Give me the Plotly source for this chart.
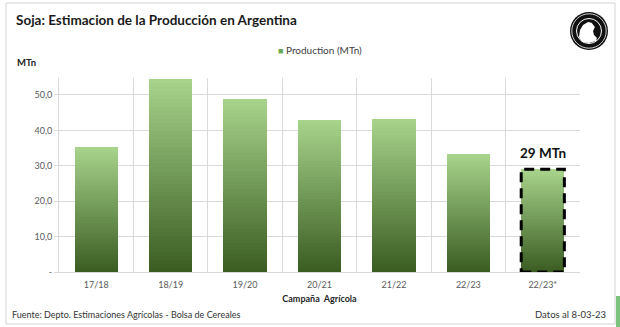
import plotly.graph_objects as go

# Soybean production by crop season (million tonnes)
campaigns = ["17/18", "18/19", "19/20", "20/21", "21/22", "22/23", "22/23*"]
production = [35.3, 54.5, 48.9, 43.0, 43.3, 33.3, 29.0]
y_tickvals = [0, 10, 20, 30, 40, 50]
y_ticktext = ["-", "10,0", "20,0", "30,0", "40,0", "50,0"]

W, H = 620, 327
ML, MR, MT, MB = 59, 40, 78, 55
PW, PH = W - ML - MR, H - MT - MB

FONT = "Lato"
BAR_WIDTH = 0.58
N_SEG = 48
BOTTOM = (0x3A, 0x5C, 0x21)
TOP = (0xA8, 0xD4, 0x8C)
LEGEND_GREEN = "#6aa84f"


def mix(t):
    r, g, b = (round(BOTTOM[i] + (TOP[i] - BOTTOM[i]) * t) for i in range(3))
    return f"rgb({r},{g},{b})"


def px_x(px):
    return (px - ML) / PW


def px_y(py):
    return (H - MB - py) / PH


def disk(cx, cy, r, fill, line_color=None, line_width=0):
    fig.add_shape(type="circle", xref="paper", yref="paper",
                  x0=px_x(cx - r), x1=px_x(cx + r), y0=px_y(cy + r), y1=px_y(cy - r),
                  fillcolor=fill,
                  line=dict(color=line_color or fill, width=line_width))


def paper_path(points):
    pts = [f"{px_x(x):.4f},{px_y(y):.4f}" for x, y in points]
    return "M " + " L ".join(pts) + " Z"


fig = go.Figure()

# Each bar is built from stacked slices so the fill fades from dark to light green
for k in range(N_SEG):
    t = (k + 0.5) / N_SEG
    fig.add_trace(go.Bar(
        x=campaigns,
        y=[v / N_SEG for v in production],
        marker=dict(color=mix(t), line=dict(width=0)),
        width=BAR_WIDTH,
        showlegend=False,
        hoverinfo="skip",
    ))

# Dashed outline and label for the current estimate
last_i = len(campaigns) - 1
last_v = production[-1]
fig.add_shape(
    type="rect", xref="x", yref="y",
    x0=last_i - BAR_WIDTH / 2, x1=last_i + BAR_WIDTH / 2, y0=0, y1=last_v,
    line=dict(color="black", width=3, dash="10px,6px"), fillcolor="rgba(0,0,0,0)",
)
fig.add_annotation(
    x=campaigns[-1], y=last_v, xref="x", yref="y", yanchor="bottom", yshift=6,
    text=f"<b>{round(last_v)} MTn</b>", showarrow=False,
    font=dict(family=FONT, size=13.5, color="#111111"),
)

# Frame around the whole chart
fig.add_shape(type="rect", xref="paper", yref="paper",
              x0=px_x(6), x1=px_x(615), y0=px_y(324), y1=px_y(3),
              line=dict(color="#d4d4d4", width=1), layer="below")
fig.add_shape(type="rect", xref="paper", yref="paper",
              x0=px_x(616), x1=px_x(621), y0=px_y(328), y1=px_y(296),
              line=dict(width=0), fillcolor="#7cc47e", layer="below")

# Round emblem, top right
cx, cy = 589, 31
disk(cx, cy, 19, "#111111")
disk(cx, cy, 17.2, "rgba(0,0,0,0)", "white", 0.8)
disk(cx, cy, 12.5, "#111111", "white", 1)
# bust in profile
fig.add_shape(type="path", xref="paper", yref="paper",
              path=paper_path([(579, 37), (580, 30), (583, 25), (588, 22), (593, 23),
                               (595, 27), (593, 31), (594, 35), (597, 38), (596, 41),
                               (589, 43), (582, 42)]),
              fillcolor="white", line=dict(width=0))
fig.add_shape(type="path", xref="paper", yref="paper",
              path=paper_path([(591, 22), (596, 23), (599, 28), (598, 34), (595, 36),
                               (594, 31), (595, 27)]),
              fillcolor="#111111", line=dict(width=0))

# Legend entry
fig.add_annotation(xref="paper", yref="paper", x=0.5, y=px_y(50),
                   xanchor="center", yanchor="middle", showarrow=False,
                   text=f"<span style='color:{LEGEND_GREEN};font-size:9px'>■</span> Production (MTn)",
                   font=dict(family=FONT, size=10, color="#404040"))

# Text outside the plot area
fig.add_annotation(xref="paper", yref="paper", x=px_x(15), y=px_y(62),
                   xanchor="left", yanchor="middle", showarrow=False,
                   text="<b>MTn</b>", font=dict(family=FONT, size=9.5, color="#222222"))
fig.add_annotation(xref="paper", yref="paper", x=px_x(10), y=px_y(314),
                   xanchor="left", yanchor="middle", showarrow=False,
                   text="Fuente: Depto. Estimaciones Agrícolas - Bolsa de Cereales",
                   font=dict(family=FONT, size=9, color="#333333"))
fig.add_annotation(xref="paper", yref="paper", x=px_x(608), y=px_y(314),
                   xanchor="right", yanchor="middle", showarrow=False,
                   text="Datos al 8-03-23",
                   font=dict(family=FONT, size=9.5, color="#333333"))

fig.update_layout(
    width=W, height=H,
    margin=dict(l=ML, r=MR, t=MT, b=MB),
    paper_bgcolor="white", plot_bgcolor="white",
    barmode="stack", bargap=0,
    showlegend=False,
    font=dict(family=FONT, color="#595959"),
    title=dict(
        text="<b>Soja: Estimacion de la Producción en Argentina</b>",
        x=16 / W, xanchor="left", xref="container",
        y=1 - 20 / H, yanchor="middle", yref="container",
        font=dict(family=FONT, size=13.5, color="#1a1a1a"),
    ),
    xaxis=dict(
        type="category", tickson="boundaries", showgrid=True,
        gridcolor="#d9d9d9", gridwidth=1,
        showline=True, linecolor="#d9d9d9",
        ticks="", ticklabelstandoff=4,
        tickfont=dict(family=FONT, size=9, color="#595959"),
        title=dict(text="<b>Campaña  Agrícola</b>", standoff=6,
                   font=dict(family=FONT, size=9, color="#262626")),
    ),
    yaxis=dict(
        range=[0, 54.8], tickvals=y_tickvals, ticktext=y_ticktext,
        showgrid=True, gridcolor="#d9d9d9", gridwidth=1,
        showline=True, linecolor="#d9d9d9",
        ticks="outside", ticklen=4, tickcolor="#d9d9d9",
        zeroline=False,
        tickfont=dict(family=FONT, size=9, color="#595959"),
    ),
)

fig.write_html("out.html")
